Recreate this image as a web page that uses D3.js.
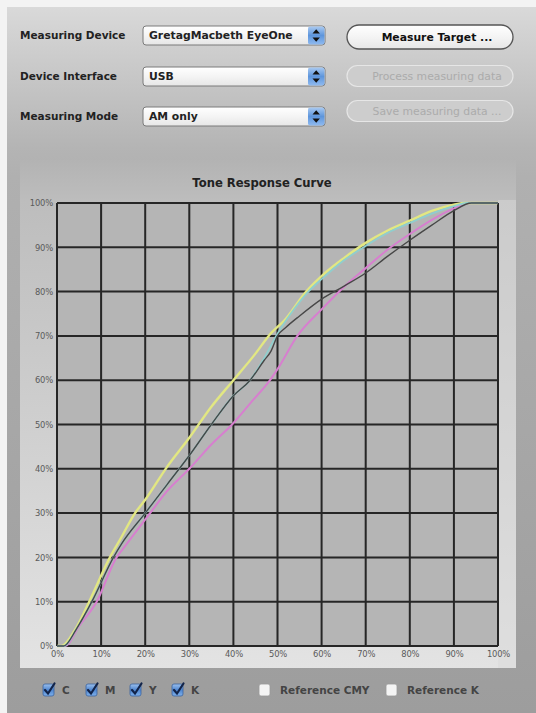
<!DOCTYPE html>
<html><head><meta charset="utf-8">
<script src="https://cdn.jsdelivr.net/npm/d3@7"></script>
<style>html,body{margin:0;padding:0;background:#f2f2f2;overflow:hidden}svg{display:block}</style>
</head><body>
<script>
// ---- data ----
const xTicks = [0,10,20,30,40,50,60,70,80,90,100];
const yTicks = [0,10,20,30,40,50,60,70,80,90,100];
const tickLabel = d => d + "%";
const chartTitle = "Tone Response Curve";

const seriesNames = ["C","M","Y","K"];
const curveY = [[0,0],[1,0],[4,3.5],[7.3,10],[12,20],[14.3,24],[17.7,30],[20,33],[25,40.5],[30,47],[35,54],[40,60],[45,66],[48,70],[52,74],[56.5,80],[60,83.5],[65,87.5],[70,91],[75,93.8],[80,96],[85,98.2],[90,99.6],[92.5,100],[100,100]];
const curveC = [[0,0],[1.5,0],[4.5,4],[7.9,10],[12.8,20],[14.6,23],[20,30],[25,36.5],[30,43],[35,50],[40,56.5],[43.8,60],[47,65],[49.7,70],[53,75],[57,80],[60,82.8],[65,87],[70,90.3],[75,93.3],[80,95.5],[85,97.6],[90,99.3],[93,100],[100,100]];
const curveK = [[0,0],[1.5,0],[4.5,4],[7.9,10],[12.8,20],[14.6,23],[20,30],[25,36.5],[30,43],[35,50],[40,56.5],[43.8,60],[47,64.5],[48.5,66.5],[50,70],[52,72],[55,74.5],[60,78.3],[65,81.2],[70,84.2],[75,88],[80,91.6],[85,95],[90,98.3],[94,100],[100,100]];
const curveM = [[0,0],[1.8,0],[5,4.5],[9,10],[13.5,20],[15,22],[21.1,30],[25,35],[30,40],[35,45.5],[39.7,50],[44,55],[48.3,60],[50,62.5],[54.5,70],[60,76],[65,81],[70,85.3],[75,89.5],[80,93],[85,96.2],[90,98.8],[93.5,100],[100,100]];

const deviceLabels = ["Measuring Device","Device Interface","Measuring Mode"];
const deviceValues = ["GretagMacbeth EyeOne","USB","AM only"];
const buttonLabels = ["Measure Target ...","Process measuring data","Save measuring data ..."];
const checkLabels = ["C","M","Y","K","Reference CMY","Reference K"];
const checkStates = [true,true,true,true,false,false];

// ---- drawing ----
const W = 536, H = 713;
const svg = d3.select("body").append("svg").attr("width",W).attr("height",H);
const defs = svg.append("defs");
const font = "'DejaVu Sans', Verdana, sans-serif";

function lin(id, stops, vertical=true){
  const g = defs.append("linearGradient").attr("id",id)
    .attr("x1",0).attr("y1",0).attr("x2",vertical?0:1).attr("y2",vertical?1:0);
  stops.forEach(s=>g.append("stop").attr("offset",s[0]).attr("stop-color",s[1]));
}
lin("winbg",[[0,"#d9d9d9"],[0.2,"#b4b4b4"],[0.24,"#b0b0b0"],[1,"#9d9d9d"]]);
lin("panelbg",[[0,"#b3b3b3"],[0.08,"#bdbdbd"],[1,"#e3e3e3"]]);
lin("btn",[[0,"#ffffff"],[0.5,"#f4f4f4"],[1,"#e6e6e6"]]);
lin("stepper",[[0,"#a9c9f0"],[0.5,"#5d95dc"],[1,"#8fbaf0"]]);
lin("chk",[[0,"#9cc0ec"],[0.5,"#4f86d0"],[1,"#7fb0ea"]]);
const blur = defs.append("filter").attr("id","soft").attr("x","-5%").attr("y","-5%").attr("width","110%").attr("height","110%");
blur.append("feGaussianBlur").attr("stdDeviation",0.55);

svg.append("rect").attr("width",W).attr("height",H).attr("fill","#f3f3f3");
svg.append("rect").attr("x",7).attr("y",7).attr("width",W-7).attr("height",H-7).attr("fill","url(#winbg)");

// panel
svg.append("rect").attr("x",20).attr("y",160).attr("width",496).attr("height",508).attr("fill","url(#panelbg)");
svg.append("rect").attr("x",498).attr("y",200).attr("width",18).attr("height",468).attr("fill","#dadada").attr("opacity",0.5);

// top controls
const rowY = [35,76,116];
deviceLabels.forEach((t,i)=>{
  svg.append("text").attr("x",20).attr("y",rowY[i]+4).text(t)
    .attr("font-family",font).attr("font-size",10.5).attr("font-weight","bold").attr("fill","#222");
  const g = svg.append("g");
  g.append("rect").attr("x",143).attr("y",rowY[i]-9).attr("width",182).attr("height",19).attr("rx",3)
    .attr("fill","url(#btn)").attr("stroke","#7a7a7a").attr("stroke-width",1);
  g.append("rect").attr("x",308).attr("y",rowY[i]-8.5).attr("width",16.5).attr("height",18).attr("rx",2)
    .attr("fill","url(#stepper)");
  g.append("path").attr("d",`M312.5,${rowY[i]-1.5} l3.7,-4.2 l3.7,4.2 Z M312.5,${rowY[i]+2.5} l3.7,4.2 l3.7,-4.2 Z`).attr("fill","#111");
  g.append("text").attr("x",149).attr("y",rowY[i]+3.5).text(deviceValues[i])
    .attr("font-family",font).attr("font-size",10.8).attr("font-weight","bold").attr("fill","#222");
});
const btnY = [37,76,111];
buttonLabels.forEach((t,i)=>{
  const on = i===0;
  svg.append("rect").attr("x",347).attr("y",btnY[i]-(on?12:10.5)).attr("width",166).attr("height",on?24:21).attr("rx",on?12:10.5)
    .attr("fill",on?"url(#btn)":"#cdcdcd").attr("stroke",on?"#555":"#e6e6e6").attr("stroke-width",on?1.3:1.2);
  svg.append("text").attr("x",437).attr("y",btnY[i]+4).attr("text-anchor","middle").text(t)
    .attr("font-family",font).attr("font-size",10.8).attr("font-weight",on?"bold":"normal")
    .attr("fill",on?"#111":"#ababab");
});

// chart
const x = d3.scaleLinear().domain([0,100]).range([57,498]);
const y = d3.scaleLinear().domain([0,100]).range([646,203]);

svg.append("text").attr("x",262).attr("y",187).attr("text-anchor","middle").text(chartTitle)
  .attr("font-family",font).attr("font-size",11.6).attr("font-weight","bold").attr("fill","#222");

svg.append("rect").attr("x",x(0)).attr("y",y(100)).attr("width",x(100)-x(0)).attr("height",y(0)-y(100)).attr("fill","#b5b5b5");

const gridG = svg.append("g").attr("filter","url(#soft)");
gridG.selectAll("line.v").data(xTicks).join("line").attr("class","v")
  .attr("x1",d=>x(d)).attr("x2",d=>x(d)).attr("y1",y(0)).attr("y2",y(100))
  .attr("stroke","#262626").attr("stroke-width",2);
gridG.selectAll("line.h").data(yTicks).join("line").attr("class","h")
  .attr("x1",x(0)).attr("x2",x(100)).attr("y1",d=>y(d)).attr("y2",d=>y(d))
  .attr("stroke","#262626").attr("stroke-width",2);

// axes labels through d3 axes
const yAxis = svg.append("g").attr("transform",`translate(${x(0)-1},0)`)
  .call(d3.axisLeft(y).tickValues(yTicks).tickFormat(tickLabel).tickSize(0).tickPadding(3));
const xAxis = svg.append("g").attr("transform",`translate(0,${y(0)+3})`)
  .call(d3.axisBottom(x).tickValues(xTicks).tickFormat(tickLabel).tickSize(0).tickPadding(2));
[xAxis,yAxis].forEach(a=>{
  a.select(".domain").remove();
  a.selectAll("text").attr("font-family",font).attr("font-size",8.4).attr("fill","#5a5a5a").attr("letter-spacing",-0.2);
});
yAxis.selectAll("text").attr("dy","0.32em");

const line = d3.line().x(d=>x(d[0])).y(d=>y(d[1])).curve(d3.curveMonotoneX);
const curves = [
  {data:curveM, color:"#d77fcf", w:2},
  {data:curveY, color:"#e2e782", w:2.4},
  {data:curveC, color:"#8fcfce", w:1.8},
  {data:curveK, color:"#474747", w:1.4}
];
const cg = svg.append("g").attr("filter","url(#soft)");
cg.selectAll("path").data(curves).join("path")
  .attr("d",d=>line(d.data)).attr("fill","none").attr("stroke",d=>d.color).attr("stroke-width",d=>d.w).attr("stroke-linejoin","round");

// legend checkboxes
const chkX = [43,86,130,172,259,386];
const cy = 690;
checkLabels.forEach((t,i)=>{
  const g = svg.append("g");
  if(checkStates[i]){
    g.append("rect").attr("x",chkX[i]).attr("y",cy-6).attr("width",11).attr("height",12).attr("rx",2)
      .attr("fill","url(#chk)").attr("stroke","#3b63a0").attr("stroke-width",0.8);
    g.append("path").attr("d",`M${chkX[i]+2},${cy} l3,3.5 l6.5,-10`).attr("fill","none").attr("stroke","#12244a").attr("stroke-width",2.2).attr("stroke-linecap","round");
  } else {
    g.append("rect").attr("x",chkX[i]).attr("y",cy-6).attr("width",11).attr("height",12).attr("rx",2)
      .attr("fill","#f4f4f4").attr("stroke","#9a9a9a").attr("stroke-width",0.8);
  }
  g.append("text").attr("x",chkX[i]+(i<4?19:21)).attr("y",cy+4).text(t)
    .attr("font-family",font).attr("font-size",10.5).attr("font-weight","bold").attr("fill","#444");
});
</script>
</body></html>
